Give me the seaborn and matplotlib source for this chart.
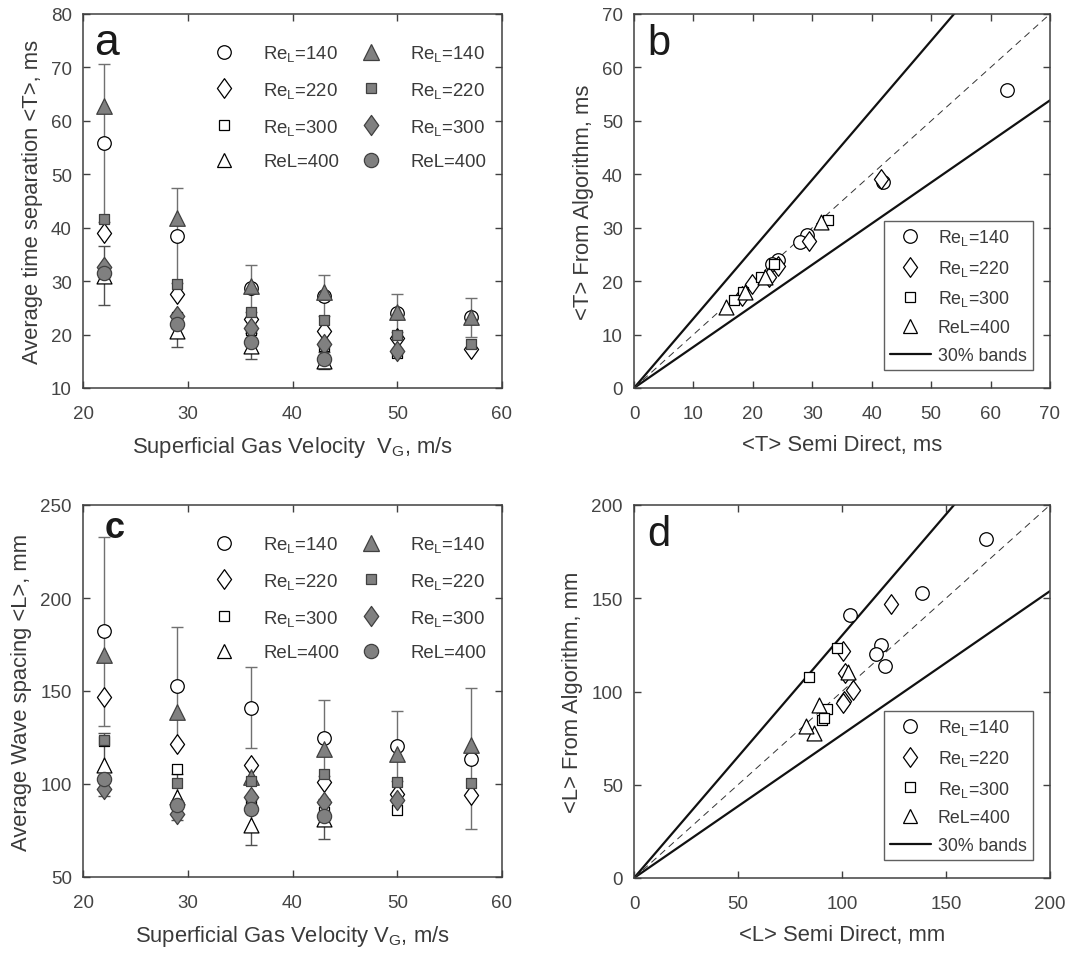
import numpy as np
import pandas as pd
import matplotlib
matplotlib.use("Agg")
import matplotlib.pyplot as plt
from matplotlib.lines import Line2D
from matplotlib.path import Path
import seaborn as sns

# ---------------- data ----------------
vg = [22, 29, 36, 43, 50, 57]
re_labels = ["Re$_L$=140", "Re$_L$=220", "Re$_L$=300", "ReL=400"]

# <T> (ms) from algorithm (open markers)
t_alg_140 = [55.8, 38.5, 28.7, 27.3, 24.0, 23.2]
t_alg_220 = [39.1, 27.6, 22.9, 20.7, 19.4, 17.3]
t_alg_300 = [31.5, 23.2, 20.8, 17.9, 16.5]
t_alg_400 = [31.0, 20.7, 17.9, 15.1]
# <T> (ms) semi direct (filled markers)
t_sd_140 = [62.7, 41.9, 29.1, 27.9, 24.3, 23.2]
t_sd_220 = [41.6, 29.4, 24.3, 22.7, 19.9, 18.2]
t_sd_300 = [32.6, 23.5, 21.3, 18.3, 16.9]
t_sd_400 = [31.5, 22.0, 18.6, 15.5]
# error bars on <T>
t_err_140 = [14.8, 8.9, 4.4, 3.8, 3.6, 3.6]
t_err_400 = [5.5, 3.1, 2.4, 1.6]

# <L> (mm) from algorithm (open markers)
l_alg_140 = [182.0, 152.6, 141.0, 124.7, 120.2, 113.6]
l_alg_220 = [146.7, 121.6, 110.0, 101.0, 94.8, 93.9]
l_alg_300 = [123.2, 107.8, 90.7, 84.9, 85.8]
l_alg_400 = [110.3, 93.0, 77.8, 81.3]
# <L> (mm) semi direct (filled markers)
l_sd_140 = [169.1, 138.6, 103.7, 118.6, 116.2, 120.7]
l_sd_220 = [123.4, 100.7, 101.4, 105.5, 101.0, 100.7]
l_sd_300 = [97.4, 84.0, 93.0, 90.3, 91.2]
l_sd_400 = [102.8, 88.9, 86.7, 82.6]
# error bars on <L>
l_err_140 = [51.0, 32.0, 21.7, 20.2, 18.8, 38.0]
l_err_400 = [17.0, 12.6, 10.4, 10.7]

band = 1.3  # 30% bands

# ---------------- style ----------------
sns.set_style("ticks")
plt.rcParams["font.family"] = ["Liberation Sans", "DejaVu Sans"]
plt.rcParams["mathtext.default"] = "regular"
TXT = "#3a3a3a"
SPINE = "#404040"
plt.rcParams.update({
    "axes.edgecolor": SPINE, "axes.linewidth": 1.1,
    "xtick.color": SPINE, "ytick.color": SPINE,
    "xtick.labelcolor": "#444444", "ytick.labelcolor": "#444444",
    "axes.labelcolor": TXT,
    "xtick.direction": "in", "ytick.direction": "in",
    "xtick.top": True, "ytick.right": True,
    "xtick.major.size": 5, "ytick.major.size": 5,
    "xtick.major.width": 1.0, "ytick.major.width": 1.0,
    "font.size": 13,
})

diamond = Path([(-0.72, 0), (0, 1), (0.72, 0), (0, -1), (-0.72, 0)],
               [Path.MOVETO, Path.LINETO, Path.LINETO, Path.LINETO, Path.CLOSEPOLY])
OPEN = dict(color="white", edgecolor="black", linewidth=0.9)
FILL = dict(color="#808080", edgecolor="#404040", linewidth=0.9)
# marker, size for the four Re series (open: algorithm)
open_style = [("o", 95), (diamond, 200), ("s", 45), ("^", 115)]
# filled (semi direct): 140 triangle, 220 square, 300 diamond, 400 circle
fill_style = [("^", 125), ("s", 55), (diamond, 210), ("o", 105)]

fig = plt.figure(figsize=(10.69, 9.54), dpi=100)
W, H = 1069, 954
def add_ax(l, r, t, b):
    return fig.add_axes([l / W, (H - b) / H, (r - l) / W, (b - t) / H])

ax_a = add_ax(83, 502, 15, 389)
ax_b = add_ax(634, 1050, 15, 389)
ax_c = add_ax(83, 502, 506, 878)
ax_d = add_ax(634, 1050, 506, 879)

LAB = 15.8
TICK = 13.5


def open_handle(i):
    m, s = open_style[i]
    return Line2D([], [], ls="none", marker=m, markersize=np.sqrt(s),
                  markerfacecolor="white", markeredgecolor="black", markeredgewidth=0.9)


def fill_handle(i):
    m, s = fill_style[i]
    return Line2D([], [], ls="none", marker=m, markersize=np.sqrt(s),
                  markerfacecolor="#808080", markeredgecolor="#404040", markeredgewidth=0.9)


def vs_panel(ax, alg, sd, e140, e400, ylim, yticks, ylabel, letter, lx, ly, letter_kw, leg_top):
    # error bars (on algorithm series ReL=140 and ReL=400)
    ax.errorbar(vg[:len(alg[0])], alg[0], yerr=e140, fmt="none", ecolor="#707070",
                elinewidth=1.0, capsize=4.5, capthick=1.0, zorder=1.5)
    ax.errorbar(vg[:len(alg[3])], alg[3], yerr=e400, fmt="none", ecolor="#505050",
                elinewidth=1.0, capsize=4.5, capthick=1.0, zorder=1.5)
    for i in range(4):
        m, s = open_style[i]
        sns.scatterplot(x=vg[:len(alg[i])], y=alg[i], marker=m, s=s, ax=ax,
                        zorder=2, legend=False, **OPEN)
    for i in range(4):
        m, s = fill_style[i]
        sns.scatterplot(x=vg[:len(sd[i])], y=sd[i], marker=m, s=s, ax=ax,
                        zorder=3, legend=False, **FILL)
    ax.set_xlim(20, 60)
    ax.set_xticks([20, 30, 40, 50, 60])
    ax.set_ylim(*ylim)
    ax.set_yticks(yticks)
    ax.set_ylabel(ylabel, fontsize=LAB, labelpad=6)
    ax.tick_params(axis="x", pad=12, labelsize=TICK)
    ax.tick_params(axis="y", pad=8, labelsize=TICK)
    ax.text(lx, ly, letter, transform=ax.transAxes, va="baseline", ha="left",
            color="#1a1a1a", **letter_kw)
    handles = [open_handle(i) for i in range(4)] + [fill_handle(i) for i in range(4)]
    leg = ax.legend(handles, re_labels + re_labels, ncol=2, frameon=False,
                    loc="upper left", bbox_to_anchor=(0.315, leg_top), borderaxespad=0,
                    borderpad=0, handlelength=1.0, handletextpad=1.6,
                    columnspacing=1.2, labelspacing=0.9, fontsize=13.4)
    for t in leg.get_texts():
        t.set_color(TXT)


def parity_panel(ax, alg, sd, lim, ticks, xlabel, ylabel, letter):
    xs = np.array([0, lim])
    ax.plot(xs, xs * band, color="#111111", lw=1.6, zorder=1)
    ax.plot(xs, xs / band, color="#111111", lw=1.6, zorder=1)
    ax.plot(xs, xs, color="#333333", lw=0.7, ls=(0, (7, 5)), zorder=1)
    for i in range(4):
        m, s = open_style[i]
        df = pd.DataFrame({"sd": sd[i], "alg": alg[i]})
        sns.scatterplot(data=df, x="sd", y="alg", marker=m, s=s, ax=ax,
                        zorder=2, legend=False, **OPEN)
    ax.set_xlim(0, lim)
    ax.set_ylim(0, lim)
    ax.set_xticks(ticks)
    ax.set_yticks(ticks)
    ax.set_xlabel(xlabel, fontsize=LAB, labelpad=9)
    ax.set_ylabel(ylabel, fontsize=LAB, labelpad=6)
    ax.tick_params(axis="x", pad=12, labelsize=TICK)
    ax.tick_params(axis="y", pad=8, labelsize=TICK)
    ax.text(0.031, 0.893, letter, transform=ax.transAxes, va="baseline", ha="left",
            fontsize=30, color="#1a1a1a")
    handles = [open_handle(i) for i in range(4)]
    handles.append(Line2D([], [], color="#111111", lw=1.6))
    leg = ax.legend(handles, re_labels + ["30% bands"], loc="lower right",
                    bbox_to_anchor=(0.959, 0.048), borderaxespad=0, frameon=True,
                    fancybox=False, edgecolor="#606060", framealpha=1,
                    handlelength=2.3, handletextpad=0.4, labelspacing=0.6,
                    borderpad=0.35, fontsize=12.8)
    leg.get_frame().set_linewidth(1.0)
    for t in leg.get_texts():
        t.set_color(TXT)


t_alg = [t_alg_140, t_alg_220, t_alg_300, t_alg_400]
t_sd = [t_sd_140, t_sd_220, t_sd_300, t_sd_400]
l_alg = [l_alg_140, l_alg_220, l_alg_300, l_alg_400]
l_sd = [l_sd_140, l_sd_220, l_sd_300, l_sd_400]

vs_panel(ax_a, t_alg, t_sd, t_err_140, t_err_400, (10, 80), range(10, 81, 10),
         "Average time separation <T>, ms", "a", 0.027, 0.893,
         dict(fontsize=32), 0.922)
ax_a.set_xlabel("Superficial Gas Velocity  V$_G$, m/s", fontsize=LAB, labelpad=9)
vs_panel(ax_c, l_alg, l_sd, l_err_140, l_err_400, (50, 250), range(50, 251, 50),
         "Average Wave spacing <L>, mm", "c", 0.052, 0.914,
         dict(fontsize=26, fontweight="bold"), 0.922)
ax_c.set_xlabel("Superficial Gas Velocity V$_G$, m/s", fontsize=LAB, labelpad=9)

parity_panel(ax_b, t_alg, t_sd, 70, range(0, 71, 10),
             "<T> Semi Direct, ms", "<T> From Algorithm, ms", "b")
parity_panel(ax_d, l_alg, l_sd, 200, range(0, 201, 50),
             "<L> Semi Direct, mm", "<L> From Algorithm, mm", "d")

fig.savefig("out.png", dpi=100)
